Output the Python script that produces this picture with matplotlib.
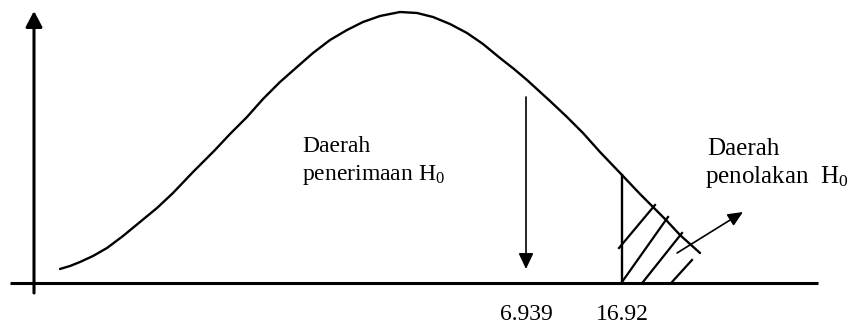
import matplotlib
matplotlib.use("Agg")
import matplotlib.pyplot as plt

plt.rcParams['font.family'] = ['Liberation Serif', 'DejaVu Serif']
plt.rcParams['mathtext.fontset'] = 'custom'
plt.rcParams['mathtext.rm'] = 'Liberation Serif'
plt.rcParams['mathtext.it'] = 'Liberation Serif:italic'

# Density curve (schematic), horizontal position vs. height above the axis
curve_x = [60, 70, 80, 93, 107, 123, 140, 157, 173, 193, 215, 230, 247, 263,
           280, 297, 313, 330, 347, 363, 380, 400, 417, 433, 450, 467, 483,
           500, 514, 527, 550, 567, 583, 600, 622, 640, 653, 667, 680, 700]
curve_y = [14, 17, 21, 27, 35, 47, 61, 75, 90, 111, 133, 149, 166, 184,
           201, 216, 230, 243, 253, 261, 267, 271, 270, 266, 259, 250, 239,
           225, 214, 203, 182, 166, 150, 131, 108, 89, 76, 62, 48, 30]

# Statistic values marked on the horizontal axis
stat_labels = ["6.939", "16.92"]
stat_pos = [526, 622]          # computed value, critical value
crit_height = 108              # curve height at the critical value

# Hatching strokes in the rejection region (start x, start y, end x, end y)
hatch_x0 = [619, 622, 643, 672]
hatch_y0 = [35, 1, 1, 1]
hatch_x1 = [655, 668, 682, 692]
hatch_y1 = [78, 66, 50, 23]

fig = plt.figure(figsize=(8.55, 3.32), dpi=100)
ax = fig.add_axes([0, 0, 1, 1])
ax.set_xlim(0, 855)
ax.set_ylim(-49, 283)
ax.axis('off')

# Axes
ax.plot([10, 818], [0, 0], color='black', lw=2.2, solid_capstyle='butt')
ax.annotate('', xy=(34, 272), xytext=(34, -10),
            arrowprops=dict(arrowstyle='-|>,head_length=0.95,head_width=0.5',
                            mutation_scale=10, lw=2.2, color='black',
                            shrinkA=0, shrinkB=0))

# Curve
ax.plot(curve_x, curve_y, color='black', lw=1.7,
        solid_joinstyle='round', solid_capstyle='round')

# Critical value boundary
ax.plot([stat_pos[1], stat_pos[1]], [0, crit_height], color='black', lw=1.7)

# Hatching
for x0, y0, x1, y1 in zip(hatch_x0, hatch_y0, hatch_x1, hatch_y1):
    ax.plot([x0, x1], [y0, y1], color='black', lw=1.6)

# Arrow pointing at the computed value
ax.annotate('', xy=(stat_pos[0], 14), xytext=(stat_pos[0], 186),
            arrowprops=dict(arrowstyle='-|>,head_length=0.95,head_width=0.45',
                            mutation_scale=10, lw=1.2, color='black',
                            shrinkA=0, shrinkB=0))

# Arrow from the rejection region to its label
ax.annotate('', xy=(743, 71), xytext=(677, 30),
            arrowprops=dict(arrowstyle='-|>,head_length=0.9,head_width=0.4',
                            mutation_scale=10, lw=1.2, color='black',
                            shrinkA=0, shrinkB=0))

# Region labels
ax.text(302, 131, "Daerah", fontsize=17, ha='left', va='baseline')
ax.text(302, 103, "penerimaan H$_0$", fontsize=17, ha='left', va='baseline')
ax.text(707, 128, "Daerah", fontsize=18, ha='left', va='baseline')
ax.text(705, 100, "penolakan  H$_0$", fontsize=18, ha='left', va='baseline')

# Axis value labels
for lab, xp in zip(stat_labels, stat_pos):
    ax.text(xp, -32, lab, fontsize=17, ha='center', va='center')

fig.savefig("out.png", dpi=100)
